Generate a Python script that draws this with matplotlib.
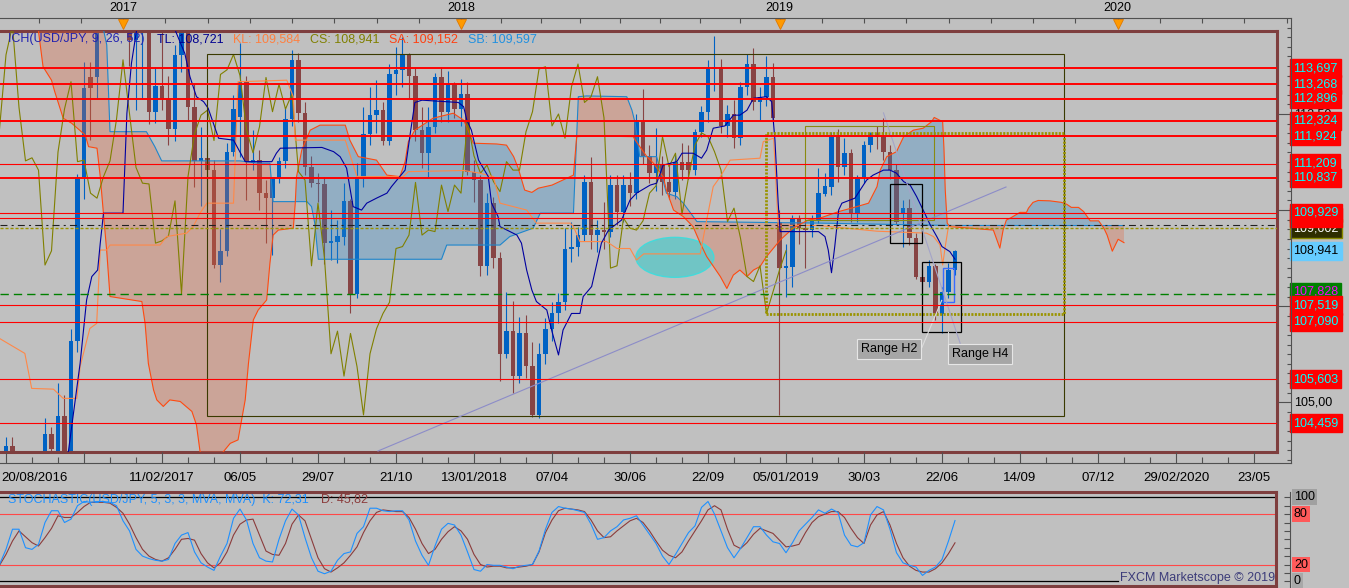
import numpy as np
import matplotlib
matplotlib.use("Agg")
import matplotlib.pyplot as plt
from matplotlib import transforms
from matplotlib.patches import Rectangle, Ellipse

plt.rcParams['font.family'] = ['Liberation Sans', 'DejaVu Sans']
plt.rcParams['lines.scale_dashes'] = False

# ---------------- data (weekly bars, index 0 = week of 20/08/2016) ----------------
opens = [100.2, 101.8, 103.86, 102.6, 102.3, 101.0, 101.4, 102.9, 104.17, 103.6,
         104.64, 103.1, 106.59, 110.87, 113.47, 113.47, 115.3, 117.9, 117.1, 116.9,
         117.0, 114.43, 114.6, 115.1, 112.54, 113.23, 112.88, 112.11, 114.04, 114.8,
         112.67, 111.28, 111.36, 111.04, 108.57, 108.94, 111.51, 112.43, 113.34, 111.22,
         111.30, 110.44, 110.31, 110.83, 111.28, 112.36, 113.91, 112.52, 111.11, 110.70,
         110.68, 109.14, 109.18, 109.31, 110.24, 107.82, 110.87, 111.98, 112.47, 112.60,
         111.81, 113.53, 113.65, 114.05, 113.50, 112.09, 111.49, 112.17, 113.45, 112.56,
         113.27, 112.63, 113.02, 111.0, 110.78, 108.55, 110.18, 108.74, 106.26, 106.85,
         105.68, 106.79, 105.93, 104.67, 106.26, 106.91, 107.31, 107.60, 109.0, 109.05,
         109.35, 110.72, 109.35, 109.48, 109.44, 110.65, 109.96, 110.65, 110.44, 112.30,
         111.41, 110.96, 111.17, 110.74, 110.48, 111.26, 111.26, 111.04, 112.04, 112.56,
         113.67, 113.73, 112.19, 112.50, 111.87, 113.21, 113.80, 112.80, 112.95, 113.47,
         109.70, 108.48, 108.53, 109.79, 109.53, 109.48, 109.72, 110.42, 110.61, 111.91,
         111.13, 111.48, 109.89, 110.85, 111.69, 112.01, 111.91, 111.52, 111.04, 109.93,
         110.05, 109.27, 108.27, 108.14, 108.55, 107.30, 107.88, 108.44]
highs = [102.0, 104.09, 104.09, 102.8, 102.4, 101.9, 103.5, 104.58, 104.35, 105.49,
         105.19, 106.9, 110.95, 113.86, 113.86, 115.4, 118.66, 118.2, 117.8, 118.6,
         117.5, 115.6, 115.4, 115.4, 113.73, 114.9, 113.5, 114.3, 115.5, 115.2,
         113.3, 112.17, 111.56, 111.3, 109.5, 111.74, 113.0, 114.34, 113.5, 112.09,
         111.56, 110.78, 110.87, 111.39, 112.69, 114.17, 114.08, 112.8, 111.4, 110.96,
         110.87, 110.0, 109.74, 110.7, 110.3, 111.22, 112.69, 113.21, 113.39, 112.82,
         113.8, 114.25, 114.5, 114.08, 113.7, 112.69, 112.69, 113.56, 113.73, 113.63,
         113.34, 113.4, 113.34, 111.3, 110.9, 110.44, 110.35, 108.9, 107.88, 107.63,
         107.23, 107.27, 106.58, 106.53, 107.2, 107.6, 107.83, 109.53, 109.7, 109.57,
         110.9, 111.37, 109.74, 110.2, 110.9, 110.9, 110.9, 111.0, 112.5, 113.14,
         111.7, 112.13, 111.4, 111.2, 111.43, 111.74, 111.69, 112.11, 112.7, 113.9,
         114.53, 113.92, 112.73, 112.86, 113.34, 114.06, 114.21, 113.2, 114.01, 113.82,
         110.0, 109.13, 109.87, 109.87, 109.9, 109.87, 111.09, 110.96, 112.04, 112.1,
         111.87, 111.6, 110.91, 111.8, 112.04, 112.2, 112.39, 111.7, 111.2, 110.26,
         110.3, 109.4, 108.5, 108.70, 108.6, 108.0, 108.62, 108.95]
lows = [99.6, 101.6, 101.2, 101.6, 100.1, 100.1, 101.2, 102.9, 103.4, 103.5,
        102.5, 101.2, 106.3, 110.3, 111.82, 112.9, 114.8, 116.6, 116.0, 115.0,
        113.75, 112.6, 112.9, 112.24, 112.26, 112.6, 111.7, 111.8, 113.6, 112.34,
        110.6, 110.11, 110.1, 108.5, 108.14, 108.8, 111.4, 111.39, 110.26, 111.04,
        110.0, 109.14, 108.83, 110.7, 111.1, 112.2, 112.3, 110.9, 110.6, 110.2,
        108.6, 108.7, 108.61, 109.1, 107.33, 107.7, 110.6, 111.7, 112.0, 111.69,
        111.7, 113.0, 113.2, 112.9, 111.8, 111.09, 110.87, 112.0, 112.3, 112.3,
        112.4, 112.2, 110.9, 110.2, 108.29, 108.3, 108.5, 105.56, 106.14, 105.25,
        105.5, 105.62, 104.62, 104.58, 106.0, 106.6, 107.05, 107.4, 108.66, 108.8,
        109.2, 109.0, 108.9, 109.0, 109.3, 109.6, 109.7, 110.1, 110.3, 111.2,
        110.7, 110.5, 110.4, 110.3, 110.3, 110.78, 110.8, 110.9, 111.9, 112.3,
        113.1, 112.0, 111.9, 111.61, 111.7, 113.0, 112.6, 112.35, 112.7, 112.3,
        104.66, 107.75, 108.0, 109.13, 108.5, 109.3, 109.67, 110.37, 110.4, 110.74,
        110.9, 109.7, 109.7, 110.7, 111.5, 111.6, 111.3, 110.8, 109.6, 109.05,
        109.1, 108.2, 107.9, 108.0, 107.14, 106.79, 107.7, 108.31]
closes = [101.8, 103.86, 102.6, 102.3, 101.0, 101.4, 102.9, 104.17, 103.79, 104.64,
          103.1, 106.59, 110.87, 113.17, 113.17, 115.3, 117.9, 117.1, 116.9, 117.0,
          114.43, 114.6, 115.1, 112.54, 113.23, 112.88, 112.11, 114.04, 114.8, 112.67,
          111.28, 111.36, 111.04, 108.57, 108.94, 111.51, 112.63, 113.34, 111.26, 111.30,
          110.44, 110.31, 110.87, 111.28, 112.36, 113.91, 112.52, 111.11, 110.70, 110.68,
          109.14, 109.20, 109.33, 110.24, 107.82, 110.87, 111.98, 112.47, 112.60, 111.81,
          113.53, 113.65, 114.05, 113.50, 112.09, 111.49, 112.17, 113.45, 112.56, 113.27,
          112.63, 113.02, 111.0, 110.78, 108.55, 110.18, 108.74, 106.26, 106.85, 105.68,
          106.79, 105.93, 104.67, 106.26, 106.91, 107.31, 107.60, 109.0, 109.05, 109.35,
          110.72, 109.35, 109.48, 109.44, 110.65, 109.96, 110.65, 110.44, 112.30, 111.41,
          110.96, 111.17, 110.74, 110.48, 111.26, 111.04, 111.04, 112.04, 112.56, 113.67,
          113.73, 112.19, 112.50, 111.87, 113.21, 113.80, 112.80, 112.95, 113.47, 112.40,
          108.49, 108.55, 109.79, 109.53, 109.48, 109.72, 110.44, 110.63, 111.91, 111.13,
          111.48, 109.89, 110.85, 111.69, 112.01, 111.91, 111.52, 111.04, 109.70, 110.05,
          109.27, 108.27, 108.14, 108.55, 107.31, 107.88, 108.44, 108.941]

# Ichimoku lines as (bar, price) vertices
tenkan = [(0, 102.0), (5, 102.2), (9, 103.0), (10.6, 103.72), (12.4, 106.01), (13.4, 107.66),
          (14.2, 108.27), (15.1, 108.44), (15.5, 109.14), (16.0, 109.92), (19.0, 109.92),
          (19.6, 112.52), (20.3, 113.82), (21.1, 114.69), (22, 115.4), (26, 115.1),
          (28.5, 114.08), (29.3, 113.47), (30.3, 112.95), (31.4, 112.82), (32.1, 112.65),
          (32.9, 112.26), (33.7, 111.87), (36.0, 111.82), (37.8, 111.26), (41.9, 111.26),
          (42.6, 111.48), (43.2, 111.61), (49.6, 111.63), (51.4, 111.52), (52.4, 111.39),
          (53.4, 111.09), (54.4, 110.09), (55.7, 110.00), (56.5, 110.18), (58.0, 110.31),
          (59.6, 110.44), (60.3, 110.61), (62.4, 111.04), (63.2, 112.0), (63.9, 112.8),
          (65.0, 112.86), (70.6, 112.80), (71.4, 112.69), (71.9, 112.34), (72.6, 112.08),
          (73.7, 111.30), (75.2, 110.87), (75.7, 110.18), (76.7, 109.83), (77.0, 109.57),
          (79.6, 109.35), (80.3, 109.14), (81.1, 108.44), (81.9, 107.92), (82.6, 107.62),
          (84.2, 107.40), (85.0, 106.84), (86.0, 106.23), (86.7, 106.88), (88.0, 107.31),
          (89.3, 107.31), (89.8, 107.75), (91.1, 108.01), (91.9, 108.61), (92.6, 109.14),
          (93.7, 109.48), (95.7, 109.74), (97.0, 110.26), (98.0, 110.44), (100.1, 110.65),
          (101.1, 110.70), (102.1, 111.17), (104.2, 111.26), (105.0, 111.48), (106.7, 111.48),
          (108.0, 111.35), (108.8, 111.56), (109.8, 112.13), (111.6, 112.19), (112.9, 112.47),
          (113.9, 112.47), (115.0, 112.60), (116.0, 112.91), (118.0, 112.95), (118.8, 112.82),
          (119.3, 111.82), (119.8, 110.18), (120.1, 109.44), (126.0, 109.44), (127.0, 109.31),
          (127.5, 108.96), (128.0, 108.37), (128.5, 109.05), (129.1, 110.00), (129.6, 110.18),
          (131.6, 110.31), (132.4, 110.52), (133.4, 110.78), (134.4, 110.91), (136.0, 111.04),
          (137.0, 111.04), (138.0, 110.96), (139.1, 110.74), (140.1, 110.65), (141.1, 110.35),
          (142.1, 110.00), (143.2, 109.61), (144.2, 109.31), (145.0, 109.05), (146.2, 108.92),
          (147.0, 108.721)]
kijun = [(0, 106.66), (2.1, 106.45), (3.9, 106.27), (4.95, 105.36), (8.3, 105.34), (9.8, 105.10),
         (11.9, 105.10), (12.4, 105.93), (13.9, 106.92), (14.95, 107.05), (15.5, 108.96),
         (16.5, 108.96), (17.0, 109.09), (24.7, 109.09), (25.7, 109.31), (28.8, 109.40),
         (29.8, 109.57), (30.85, 109.92), (31.9, 110.18), (36.0, 110.18), (36.7, 113.34),
         (44.2, 113.38), (45.2, 112.95), (45.5, 111.82), (53.2, 111.82), (55.0, 110.87),
         (62.1, 110.87), (62.9, 111.0), (71.4, 111.03), (73.9, 110.96), (76.0, 110.87),
         (77.0, 110.18), (81.1, 110.00), (82.6, 109.66), (87.8, 109.66), (88.3, 109.57),
         (89.3, 109.18), (93.4, 109.18), (95.0, 109.00), (97.0, 109.00), (98.0, 108.70),
         (99.1, 108.86), (107.8, 108.86), (108.5, 109.48), (109.8, 110.61), (110.9, 110.87),
         (112.4, 111.30), (117.0, 111.35), (117.5, 111.78), (119.1, 111.87), (119.8, 109.6),
         (126, 109.6), (135, 109.45), (142.6, 109.4), (143.7, 109.31), (144.7, 109.09),
         (145.1, 108.57), (145.5, 109.05), (146.0, 109.584), (147.0, 109.584)]
senkou_a = [(0, 116.6), (5.97, 114.69), (6.7, 113.73), (8.0, 113.38), (8.5, 113.08), (9.8, 112.39),
            (11.1, 112.26), (13.2, 111.95), (13.7, 111.65), (15.0, 111.61), (15.5, 110.87),
            (16.5, 108.92), (17.0, 107.75), (21.9, 107.62), (22.4, 107.05), (22.9, 106.01),
            (23.7, 105.32), (24.2, 105.06), (25.2, 104.89), (26.2, 105.06), (27.8, 105.02),
            (29.6, 104.76), (30.3, 104.41), (30.85, 103.72), (32.0, 103.3), (33.4, 103.5),
            (35.5, 103.93), (36.7, 104.02), (37.8, 105.06), (38.3, 106.01), (39.05, 107.14),
            (39.8, 107.40), (41.1, 107.66), (41.6, 108.61), (42.1, 109.35), (42.9, 109.48),
            (45.2, 109.53), (45.5, 110.18), (45.7, 110.87), (46.5, 111.56), (47.8, 112.08),
            (49.3, 112.21), (53.2, 112.21), (53.9, 111.82), (55.2, 111.39), (58.0, 111.30),
            (59.6, 110.91), (61.6, 110.87), (62.4, 111.26), (62.9, 111.78), (63.9, 112.08),
            (64.7, 112.17), (66.7, 112.39), (69.8, 112.52), (71.4, 112.34), (72.1, 112.08),
            (72.9, 111.74), (76.5, 111.72), (78.0, 111.69), (79.1, 111.39), (79.8, 111.09),
            (80.8, 110.52), (81.9, 110.46), (82.9, 110.57), (85.0, 110.65), (87.8, 110.87),
            (88.3, 110.91), (88.8, 111.91), (90.9, 111.93), (97.5, 111.91), (97.8, 111.82),
            (99.6, 111.39), (100.6, 111.22), (102.1, 110.87), (102.6, 110.52), (103.7, 110.00),
            (105.2, 109.83), (106.7, 109.57), (107.8, 109.14), (108.8, 108.79), (110.9, 108.27),
            (111.9, 107.96), (112.9, 108.31), (113.9, 108.44), (115.0, 108.27), (116.0, 108.44),
            (117.0, 108.53), (118.0, 108.79), (120.1, 109.22), (122.1, 109.53), (124.4, 109.74),
            (126.2, 109.79), (129.1, 109.96), (131.9, 110.09), (133.7, 110.18), (135.0, 110.61),
            (135.5, 111.04), (136.5, 111.39), (138.0, 111.52), (139.1, 111.91), (140.6, 112.08),
            (142.1, 112.13), (143.4, 112.30), (143.8, 112.41), (145.1, 112.30), (145.3, 111.61),
            (145.5, 110.52), (145.8, 109.66), (146.2, 109.57), (152.9, 109.48), (153.9, 109.01),
            (154.4, 109.48), (154.9, 109.74), (155.6, 109.80), (156.3, 109.87), (157.0, 109.94),
            (158.0, 109.94), (158.3, 110.05), (159.0, 110.20), (159.8, 110.25), (161.6, 110.24),
            (163.4, 110.20), (164.2, 110.15), (164.9, 110.07), (166.0, 110.07), (166.8, 109.96),
            (167.8, 109.72), (169.1, 109.72), (169.9, 109.53), (170.4, 109.35), (171.2, 108.93),
            (172.1, 109.24), (173.0, 109.152)]
senkou_b = [(0, 116.0), (15.9, 116.0), (16.0, 114.69), (16.5, 114.30), (17.0, 112.04), (22.6, 112.04),
            (23.9, 111.65), (24.95, 111.28), (37.0, 111.28), (39.8, 111.22), (41.6, 111.22),
            (42.1, 110.22), (47.3, 110.22), (48.0, 110.09), (48.5, 109.66), (49.05, 108.72),
            (68.0, 108.72), (68.8, 109.09), (77.0, 109.09), (78.5, 109.31), (82.1, 109.53),
            (83.2, 109.92), (88.3, 109.92), (89.05, 112.95), (90.3, 112.97), (96.5, 112.95),
            (97.3, 112.60), (97.8, 112.26), (98.5, 111.39), (101.1, 111.39), (102.6, 110.44),
            (104.2, 110.35), (105.2, 110.18), (107.3, 109.70), (126.2, 109.66), (146.0, 109.60),
            (173.0, 109.597)]

stoch_k = [20, 38, 62, 62, 40, 38, 44, 70, 84, 84, 70, 74, 90, 95, 94, 95, 95, 94, 90, 72,
           60, 38, 30, 27, 25, 24, 26, 45, 55, 58, 35, 22, 17, 13, 30, 45, 75, 86, 73, 45,
           28, 24, 23, 50, 72, 86, 79, 52, 28, 12, 9, 12, 25, 33, 35, 57, 65, 87, 87, 84,
           83, 84, 84, 73, 48, 31, 19, 42, 62, 69, 67, 55, 35, 14, 12, 20, 19, 19, 17, 15,
           18, 19, 20, 36, 62, 82, 89, 87, 86, 84, 82, 68, 50, 52, 60, 65, 73, 75, 78, 67,
           56, 45, 30, 20, 32, 45, 58, 66, 88, 95, 80, 60, 40, 28, 39, 52, 65, 65, 55, 47,
           45, 34, 46, 60, 68, 76, 85, 81, 86, 82, 55, 43, 41, 46, 79, 89, 85, 62, 34, 22,
           19, 17, 7, 13, 17, 26, 48, 72.31]
stoch_d = [19, 32, 48, 60, 53, 46, 42, 52, 63, 78, 76, 76, 82, 89, 94, 94, 94, 93, 88, 81,
           68, 52, 38, 30, 26, 24, 28, 38, 50, 51, 49, 33, 22, 16, 22, 35, 55, 68, 73, 74,
           55, 36, 32, 31, 45, 68, 79, 72, 50, 28, 15, 11, 16, 22, 31, 41, 58, 72, 82, 85,
           84, 83, 83, 76, 62, 45, 33, 38, 50, 59, 65, 60, 50, 32, 20, 17, 18, 18, 16, 16,
           17, 18, 20, 35, 58, 73, 84, 87, 86, 85, 83, 73, 60, 52, 53, 60, 66, 72, 75, 70,
           60, 48, 37, 31, 28, 35, 48, 60, 72, 85, 90, 85, 62, 43, 39, 46, 56, 63, 60, 57,
           49, 41, 42, 44, 58, 70, 77, 80, 83, 83, 76, 63, 52, 45, 67, 79, 83, 67, 45, 28,
           18, 13, 11, 11, 15, 22, 33, 45.82]

red_levels = [113.697, 113.268, 112.896, 112.324, 111.924, 111.209, 110.837, 109.929, 109.802,
              107.519, 107.090, 105.603, 104.459]
red_thick = [True, True, True, True, True, False, True, False, False, False, False, False, False]
green_level = 107.828
dashdot_level = 109.604
dotted_level = 109.53

date_bars = [0, 25, 37, 49, 61, 73, 85, 97, 109, 121, 133, 145, 157, 169, 181, 193]
date_labels = ['20/08/2016', '11/02/2017', '06/05', '29/07', '21/10', '13/01/2018', '07/04',
               '30/06', '22/09', '05/01/2019', '30/03', '22/06', '14/09', '07/12',
               '29/02/2020', '23/05']
year_bars = [19, 71, 120, 172]
year_labels = ['2017', '2018', '2019', '2020']

# ---------------- layout helpers (pixel layout of the 1349x588 picture) ----------------
W, H = 1349, 588
BG = '#C0C0C0'
BORDER = '#7E3E3E'


def bar_at(px):
    return (px + 0.5) / 6.5


def price_at(py):
    return 113.697 - (py - 68) / 38.43


def stoch_at(py):
    return (581.3 - py) / 0.84


def box(l, t, r, b):
    return [l / W, 1 - b / H, (r - l) / W, (b - t) / H]


fig = plt.figure(figsize=(W / 100, H / 100), dpi=100, facecolor=BG)

ax = fig.add_axes(box(0, 31, 1277, 452), facecolor=BG)
ax.set_xticks([])
ax.set_yticks([])
for s in ['top', 'right', 'bottom']:
    ax.spines[s].set_color(BORDER)
    ax.spines[s].set_linewidth(2.2)
ax.spines['left'].set_visible(False)

bars = np.arange(len(closes))
o = np.array(opens)
c = np.array(closes)
colors = np.where(c >= o, '#0062C4', '#874444')
ax.vlines(bars, lows, highs, colors=colors, lw=0.8, zorder=2)
ax.bar(bars, np.maximum(np.abs(c - o), 0.02), bottom=np.minimum(o, c), width=0.72,
       color=colors, lw=0, zorder=2)

# cloud
sa_x, sa_y = np.array(senkou_a).T
sb_x, sb_y = np.array(senkou_b).T
grid = np.arange(0, 173.0001, 0.05)
sa_g = np.interp(grid, sa_x, sa_y)
sb_g = np.interp(grid, sb_x, sb_y)
ax.fill_between(grid, sa_g, sb_g, where=sa_g >= sb_g, interpolate=True,
                color=(40 / 255, 135 / 255, 205 / 255), alpha=0.3, lw=0, zorder=3)
ax.fill_between(grid, sa_g, sb_g, where=sa_g < sb_g, interpolate=True,
                color=(230 / 255, 100 / 255, 60 / 255), alpha=0.3, lw=0, zorder=3)

# ellipse annotation
ax.add_patch(Ellipse((103.9, 108.77), 12.0, 1.04, fc='#6CC6C6', ec='#3FDCDC', lw=1,
                     alpha=0.95, zorder=3.5))

ax.plot(sb_x, sb_y, color='#1E86CC', lw=0.8, zorder=4)
ax.plot(sa_x, sa_y, color='#FF4A10', lw=0.8, zorder=4)
ax.plot(bars - 26, closes, color='#808000', lw=0.8, zorder=4)
kx, ky = np.array(kijun).T
ax.plot(kx, ky, color='#FF8848', lw=0.8, zorder=4)
tx, ty = np.array(tenkan).T
ax.plot(tx, ty, color='#0000A0', lw=0.8, zorder=4)

# drawings
ax.add_patch(Rectangle((bar_at(207.3), price_at(416.5)), bar_at(1064) - bar_at(207.3),
                       price_at(54.3) - price_at(416.5), fill=False, ec='#3A3A00', lw=0.8,
                       zorder=5))
ax.add_patch(Rectangle((bar_at(766), 107.3), bar_at(1064) - bar_at(766), 112.0 - 107.3,
                       fill=False, ec='#9A9400', lw=2.0, ls=(0, (1.5, 1.0)), zorder=5))
ax.add_patch(Rectangle((bar_at(805), 109.74), bar_at(934) - bar_at(805), 112.19 - 109.74,
                       fill=False, ec='#8A8A10', lw=0.8, zorder=5))
ax.add_patch(Rectangle((137.0, 109.14), 4.9, 110.67 - 109.14, fill=False, ec='black',
                       lw=0.9, zorder=5))
ax.add_patch(Rectangle((141.9, 106.82), 6.0, 108.66 - 106.82, fill=False, ec='black',
                       lw=0.9, zorder=5))
ax.add_patch(Rectangle((145.1, 107.60), 1.8, 108.48 - 107.60, fill=False, ec='#3A6CFF',
                       lw=1.0, zorder=5))
ax.plot([bar_at(378), bar_at(1006)], [price_at(451), price_at(187)], color='#8C8CC8',
        lw=0.8, zorder=5)
ax.plot([136.0, 147.8], [112.53, 106.53], color='#A4A4C8', lw=0.8, zorder=5)
ax.plot([141.9, 144.95], [106.42, 107.65], color='#DCDCDC', lw=0.8, zorder=5)
ax.plot([146.0, 146.0], [106.29, 106.84], color='#DCDCDC', lw=0.8, zorder=5)
ax.text(136.9, 106.385, 'Range H2', fontsize=9, ha='center', va='center', zorder=8,
        bbox=dict(boxstyle='square,pad=0.3', fc='#A6A6A6', ec='#E6E6E6', lw=0.8))
ax.text(150.8, 106.255, 'Range H4', fontsize=9, ha='center', va='center', zorder=8,
        bbox=dict(boxstyle='square,pad=0.3', fc='#A6A6A6', ec='#E6E6E6', lw=0.8))

# horizontal levels
for lv, thick in zip(red_levels, red_thick):
    ax.axhline(lv, color='#FF0000', lw=1.4 if thick else 0.8, zorder=6)
ax.axhline(dashdot_level, color='#202020', lw=0.8, ls=(0, (5, 3, 1.5, 3)), zorder=6)
ax.axhline(dotted_level, color='#9A9400', lw=1.0, ls=(0, (2.2, 1.4)), zorder=6)
ax.axhline(green_level, color='#008000', lw=1.0, ls=(0, (6, 3.6)), zorder=6)
ax.set_xlim(bar_at(0), bar_at(1277))
ax.set_ylim(price_at(452), price_at(31))

# legend text
legend = [(8, 'ICH(USD/JPY, 9, 26, 52)', '#2222B0'), (157, 'TL: 108,721', '#000090'),
          (233, 'KL: 109,584', '#FF8040'), (310, 'CS: 108,941', '#808000'),
          (389, 'SA: 109,152', '#FF4010'), (468, 'SB: 109,597', '#2090E0')]
for px, txt, col in legend:
    fig.text(px / W, 1 - 39 / H, txt, color=col, fontsize=9, va='center', zorder=10)

# ---------------- top (year) axis ----------------
axt = fig.add_axes(box(0, 18, 1291, 31), facecolor='none')
for s in ['left', 'right', 'bottom']:
    axt.spines[s].set_visible(False)
axt.spines['top'].set_color('#505050')
axt.spines['top'].set_linewidth(0.8)
yb = [year_bars[0] - 52] + year_bars + [year_bars[-1] + 52]
ticks = []
for a, b in zip(yb[:-1], yb[1:]):
    ticks += list(np.linspace(a, b, 9)[:-1])
axt.set_xticks(ticks)
axt.tick_params(axis='x', top=True, bottom=False, direction='in', length=3.8, width=0.8,
                color='#505050', labeltop=False, labelbottom=False)
axt.set_yticks([])
axt.plot(year_bars, [0.55] * 4, 'v', ms=7, color='#FF9A00', mec='#E07800', mew=0.6,
         clip_on=False)
for xb, lab in zip(year_bars, year_labels):
    axt.text(xb, 1.75, lab, fontsize=9, ha='center', va='center')
axt.set_xlim(bar_at(0), bar_at(1291))
axt.set_ylim(0, 1)

# ---------------- date axis ----------------
axd = fig.add_axes(box(0, 452, 1291, 463), facecolor='none')
for s in ['left', 'right', 'top']:
    axd.spines[s].set_visible(False)
axd.spines['bottom'].set_color('#505050')
axd.spines['bottom'].set_linewidth(0.8)
axd.set_xticks(np.arange(1, 197, 12))
axd.set_xticks(np.arange(1, 197, 4), minor=True)
axd.tick_params(axis='x', which='major', direction='in', length=8, width=0.8, color='#505050',
                labelbottom=False)
axd.tick_params(axis='x', which='minor', direction='in', length=4, width=0.8, color='#505050')
axd.set_yticks([])
axd.set_xlim(bar_at(0), bar_at(1291))
dtr = transforms.blended_transform_factory(axd.transData, fig.transFigure)
for xb, lab in zip(date_bars, date_labels):
    axd.text(xb if xb else bar_at(1), 1 - 478 / H, lab, transform=dtr, fontsize=9.5,
             ha='left' if xb == 0 else 'center', va='center')

# ---------------- right price axis ----------------
axr = fig.add_axes(box(1277, 18, 1291, 463), facecolor='none')
axr.set_xticks([])
for s in ['left', 'top', 'bottom']:
    axr.spines[s].set_visible(False)
axr.spines['right'].set_color('#505050')
axr.spines['right'].set_linewidth(0.8)
axr.yaxis.tick_right()
axr.set_yticks(np.arange(102.5, 116, 2.5))
axr.set_yticks(np.arange(102.5, 116, 0.25), minor=True)
axr.tick_params(axis='y', which='major', direction='in', length=9.4, width=0.8,
                color='#505050', labelright=False)
axr.tick_params(axis='y', which='minor', direction='in', length=3, width=0.8, color='#505050')
axr.set_ylim(price_at(463), price_at(18))
rtr = transforms.blended_transform_factory(fig.transFigure, axr.transData)
for lv, lab in [(112.5, '112,50'), (110.0, '110,00'), (107.5, '107,50'), (105.0, '105,00')]:
    axr.text(1294 / W, lv, lab, transform=rtr, fontsize=9, va='center', ha='left',
             clip_on=False, zorder=1)
# drawn in this order so later tags cover earlier ones, as in the platform
tags = [(113.697, '113,697', '#FF0000', '#00FFFF'), (113.268, '113,268', '#FF0000', '#00FFFF'),
        (112.896, '112,896', '#FF0000', '#00FFFF'), (112.324, '112,324', '#FF0000', '#00FFFF'),
        (111.924, '111,924', '#FF0000', '#00FFFF'), (111.209, '111,209', '#FF0000', '#00FFFF'),
        (110.837, '110,837', '#FF0000', '#00FFFF'), (109.52, '109,602', '#2E2E00', '#FFFFFF'),
        (109.802, '109,802', '#FF0000', '#00FFFF'), (109.929, '109,929', '#FF0000', '#00FFFF'),
        (108.941, '108,941', '#66CCFF', '#000000'), (107.87, '107,828', '#008000', '#FF00FF'),
        (107.519, '107,519', '#FF0000', '#00FFFF'), (107.090, '107,090', '#FF0000', '#00FFFF'),
        (105.603, '105,603', '#FF0000', '#00FFFF'), (104.459, '104,459', '#FF0000', '#00FFFF')]
for i, (lv, lab, fc, tc) in enumerate(tags):
    ec = '#8A8A00' if fc == '#2E2E00' else fc
    axr.text(1293 / W, lv, lab, transform=rtr, fontsize=9, color=tc, va='center', ha='left',
             clip_on=False, zorder=2 + i * 0.01,
             bbox=dict(boxstyle='square,pad=0.26', fc=fc, ec=ec, lw=1.0))

# ---------------- stochastic panel ----------------
axs = fig.add_axes(box(0, 491.7, 1276, 585.7), facecolor=BG)
axs.set_xticks([])
axs.set_yticks([])
for s in ['top', 'right', 'bottom']:
    axs.spines[s].set_color(BORDER)
    axs.spines[s].set_linewidth(2.2)
axs.spines['left'].set_visible(False)
axs.axhline(100, color='black', lw=0.9)
axs.axhline(80, color='#FF4848', lw=0.8)
axs.axhline(20, color='#FF4848', lw=0.8)
axs.axhline(0, xmax=1118 / 1276, color='black', lw=0.9)
axs.plot(bars, stoch_d, color='#8B3C3C', lw=0.8)
axs.plot(bars, stoch_k, color='#1E90FF', lw=0.8)
axs.set_xlim(bar_at(0), bar_at(1276))
axs.set_ylim(stoch_at(585.7), stoch_at(491.7))
str_ = transforms.blended_transform_factory(fig.transFigure, axs.transData)
axs.text(8 / W, stoch_at(500), 'STOCHASTIC(USD/JPY, 5, 3, 3, MVA, MVA)  K: 72,31',
         transform=str_, color='#1E90FF', fontsize=9, va='center')
axs.text(321 / W, stoch_at(500), 'D: 45,82', transform=str_, color='#8B3C3C', fontsize=9,
         va='center')
fig.text(1275 / W, 1 - 578 / H, 'FXCM Marketscope \u00a9 2019', color='#3C3C7A', fontsize=9,
         ha='right', va='center')

axsr = fig.add_axes(box(1276, 491.7, 1290, 587), facecolor='none')
axsr.set_xticks([])
for s in ['left', 'top', 'bottom']:
    axsr.spines[s].set_visible(False)
axsr.spines['right'].set_color('#505050')
axsr.spines['right'].set_linewidth(0.8)
axsr.yaxis.tick_right()
axsr.set_yticks(np.arange(0, 101, 10))
axsr.tick_params(axis='y', direction='in', length=4.5, width=0.8, color='#505050',
                 labelright=False)
axsr.set_ylim(stoch_at(587), stoch_at(491.7))
srtr = transforms.blended_transform_factory(fig.transFigure, axsr.transData)
for lv, lab, fc in [(100, '100', '#A0A0A0'), (80, '80', '#FF5A5A'), (20, '20', '#FF5A5A'),
                    (0, '0', '#A8A8A8')]:
    axsr.text(1294 / W, lv, lab, transform=srtr, fontsize=9, va='center', ha='left',
              clip_on=False, bbox=dict(boxstyle='square,pad=0.15', fc=fc, ec='none'))

fig.savefig('out.png', dpi=100, facecolor=BG)
